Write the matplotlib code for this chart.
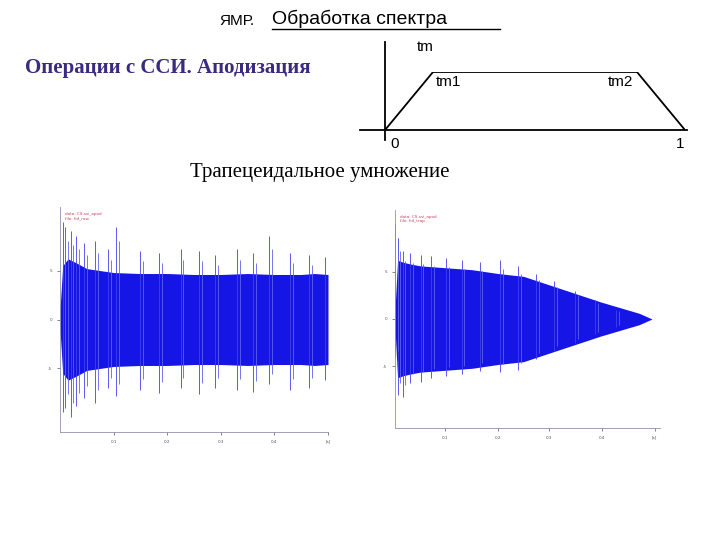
import matplotlib.pyplot as plt
import numpy as np

W, H = 720, 540
# trapezoid window
trap_x = [0.0, 0.16, 0.84, 1.0]
trap_y = [0.0, 1.0, 1.0, 0.0]
# FID envelopes (fraction of time axis, amplitude)
t_env = [0.0, 0.01, 0.03, 0.06, 0.1, 0.15, 0.2, 0.3, 0.4, 0.5, 0.6, 0.7, 0.8, 0.9, 0.95, 1.0]
env1 = [0.10, 0.55, 0.62, 0.58, 0.52, 0.50, 0.48, 0.47, 0.47, 0.46, 0.46, 0.47, 0.46, 0.46, 0.47, 0.46]
env2 = [0.10, 0.62, 0.60, 0.58, 0.56, 0.55, 0.54, 0.52, 0.48, 0.45, 0.36, 0.27, 0.18, 0.10, 0.06, 0.0]
sp1_t = [0.01, 0.02, 0.04, 0.06, 0.09, 0.13, 0.18, 0.21, 0.30, 0.37, 0.45, 0.52, 0.58, 0.66, 0.72, 0.78, 0.86, 0.93, 0.99]
sp1_a = [1.0, 0.95, 0.9, 0.85, 0.78, 0.80, 0.72, 0.95, 0.70, 0.68, 0.72, 0.70, 0.66, 0.72, 0.68, 0.85, 0.68, 0.66, 0.64]
sp1_b = [-0.95, -0.90, -1.0, -0.88, -0.80, -0.85, -0.70, -0.78, -0.72, -0.75, -0.70, -0.76, -0.70, -0.72, -0.74, -0.66, -0.72, -0.70, -0.62]
sp2_t = [0.0, 0.01, 0.03, 0.06, 0.1, 0.14, 0.2, 0.26, 0.33, 0.41, 0.48, 0.55, 0.62, 0.7, 0.78, 0.86]
sp2_a = [1.0, 0.85, 0.72, 0.70, 0.68, 0.66, 0.64, 0.62, 0.60, 0.62, 0.56, 0.48, 0.40, 0.30, 0.20, 0.10]
sp2_b = [-0.40, -0.80, -0.82, -0.68, -0.66, -0.62, -0.60, -0.58, -0.55, -0.56, -0.54, -0.42, -0.34, -0.25, -0.16, -0.08]

fig = plt.figure(figsize=(7.2, 5.4), dpi=100)
fig.patch.set_facecolor('white')

def px(x, y):
    return x / W, 1 - y / H

fig.text(*px(219, 21), 'ЯМР.', fontsize=11, family='Liberation Sans', va='center')
fig.text(*px(272, 19), 'Обработка спектра', fontsize=14, family='Liberation Sans', va='center')
fig.add_artist(plt.Line2D([272/W, 500/W], [1-29/H, 1-29/H], color='black', lw=1))
fig.text(*px(25, 68), 'Операции с ССИ. Аподизация', fontsize=15, family='Liberation Serif',
         weight='bold', color='#3a2a80', va='center')
fig.text(*px(320, 172), 'Трапецеидальное умножение', fontsize=15, family='Liberation Serif',
         ha='center', va='center')

# trapezoid diagram
ax0 = fig.add_axes([385/W, 1-130/H, 300/W, 58/H])
ax0.plot(trap_x, trap_y, color='black', lw=1.3)
ax0.set_xlim(0, 1); ax0.set_ylim(0, 1)
ax0.axis('off')
fig.add_artist(plt.Line2D([385/W, 385/W], [1-42/H, 1-140/H], color='black', lw=1.3))
fig.add_artist(plt.Line2D([360/W, 687/W], [1-130/H, 1-130/H], color='black', lw=1.3))
for s, x, y in [('tm', 425, 47), ('tm1', 448, 82), ('tm2', 620, 82), ('0', 395, 144), ('1', 680, 144)]:
    fig.text(*px(x, y), s, fontsize=11, family='Liberation Sans', ha='center', va='center')

def fid(rect, env, spt, spa, spb, tmax, ticks, label):
    ax = fig.add_axes(rect)
    t = np.array(t_env) * tmax
    e = np.array(env)
    ax.fill_between(t, -e, e, color='#1515e6', lw=0)
    ax.vlines(np.array(spt) * tmax, spb, spa, color='#4040f0', lw=0.6)
    ax.vlines(np.array(spt) * tmax + 0.01, np.array(spb) * 0.85, np.array(spa) * 0.85, color='#6060f0', lw=0.6)
    ax.set_xlim(0, 1); ax.set_ylim(-1.15, 1.15)
    for sp in ['top', 'right']:
        ax.spines[sp].set_visible(False)
    for sp in ['left', 'bottom']:
        ax.spines[sp].set_color('#9090b0'); ax.spines[sp].set_linewidth(0.6)
    ax.set_xticks(ticks)
    ax.set_xticklabels(['0.1', '0.2', '0.3', '0.4', '[s]'][:len(ticks)])
    ax.set_yticks([-0.5, 0, 0.5]); ax.set_yticklabels(['-5', '0', '5'])
    ax.tick_params(labelsize=3, length=2, width=0.5, colors='#555555')
    ax.text(0.02, 1.1, label, fontsize=3, color='#d04060', va='top')
    return ax

fid([60/W, 1-432/H, 268/W, 225/H], env1, sp1_t, sp1_a, sp1_b, 1.0,
    [0.2, 0.4, 0.6, 0.8, 1.0], 'data: CS-ssi_apod\nfile: fid_raw')
fid([395/W, 1-428/H, 265/W, 218/H], env2, sp2_t, sp2_a, sp2_b, 0.97,
    [0.19, 0.39, 0.58, 0.78, 0.98], 'data: CS-ssi_apod\nfile: fid_trap')

fig.savefig('out.png', dpi=100)
